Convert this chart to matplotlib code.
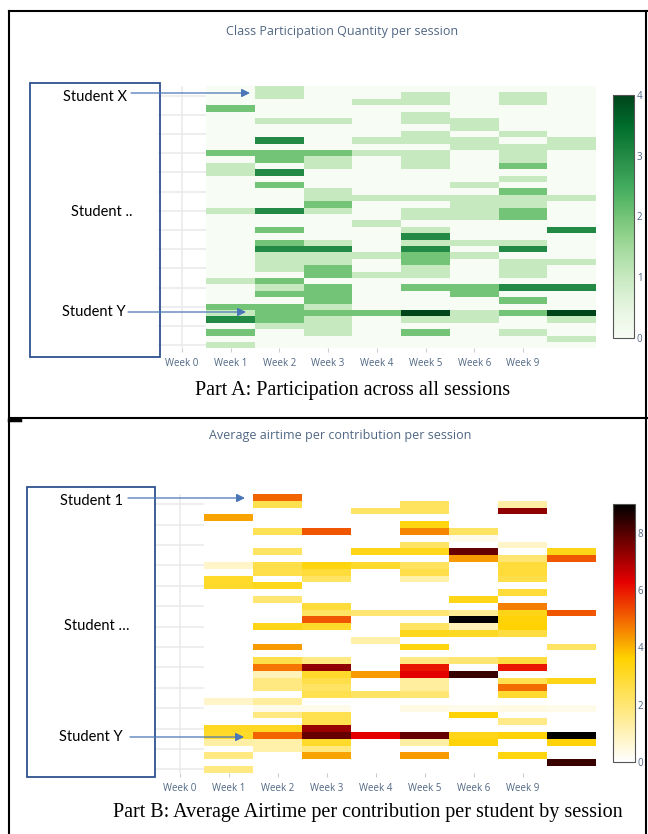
import numpy as np
import matplotlib
matplotlib.use('Agg')
import matplotlib.pyplot as plt
from matplotlib.colors import LinearSegmentedColormap
from matplotlib.patches import Rectangle, FancyArrowPatch
from matplotlib.lines import Line2D

# ------------------------------------------------------------------ #
#  Data (rows = students, top to bottom; Week 0 has no data)          #
# ------------------------------------------------------------------ #

weeks = ['Week 0', 'Week 1', 'Week 2', 'Week 3', 'Week 4', 'Week 5', 'Week 6', 'Week 9', '']

# Part A: number of contributions per session
qty_w1 = [0, 0, 0, 2, 0, 0, 0, 0, 0, 0, 2, 0, 1, 1, 0, 0, 0, 0, 0, 1, 0, 0, 0, 0, 0, 0, 0, 0, 0, 0, 1, 0, 0, 0, 2, 1, 3, 0, 2, 0, 1]
qty_w2 = [1, 1, 0, 0, 0, 1, 0, 0, 3, 0, 2, 2, 0, 3, 0, 2, 0, 0, 0, 3, 0, 0, 2, 0, 2, 3, 1, 1, 1, 0, 2, 1, 2, 0, 2, 2, 2, 1, 0, 0, 0]
qty_w3 = [0, 0, 0, 0, 0, 1, 0, 0, 0, 0, 2, 1, 1, 0, 0, 0, 1, 1, 2, 1, 0, 0, 0, 0, 1, 3, 1, 1, 2, 2, 0, 2, 2, 2, 1, 2, 1, 1, 1, 0, 0]
qty_w4 = [0, 0, 1, 0, 0, 0, 0, 0, 1, 0, 1, 0, 0, 0, 0, 0, 0, 1, 0, 0, 0, 1, 0, 0, 0, 0, 1, 0, 0, 1, 0, 0, 0, 0, 0, 2, 0, 0, 0, 0, 0]
qty_w5 = [0, 1, 1, 0, 1, 1, 0, 1, 1, 0, 1, 1, 1, 0, 0, 0, 0, 1, 0, 1, 1, 0, 1, 3, 1, 3, 2, 2, 1, 1, 0, 2, 0, 0, 0, 4, 1, 0, 2, 0, 0]
qty_w6 = [0, 0, 0, 0, 0, 1, 1, 0, 1, 1, 0, 0, 0, 0, 0, 1, 0, 1, 1, 1, 1, 0, 0, 0, 1, 0, 1, 0, 0, 0, 0, 2, 2, 0, 0, 1, 1, 0, 0, 0, 0]
qty_w9 = [0, 1, 1, 0, 0, 0, 0, 1, 0, 1, 1, 1, 2, 0, 1, 0, 2, 1, 1, 2, 2, 0, 0, 0, 1, 3, 0, 1, 1, 1, 0, 3, 0, 2, 0, 2, 0, 0, 1, 0, 0]
qty_wx = [0, 0, 0, 0, 0, 0, 0, 0, 1, 1, 0, 0, 0, 0, 0, 0, 0, 1, 0, 0, 0, 0, 3, 0, 0, 0, 0, 1, 0, 0, 0, 3, 0, 0, 0, 4, 1, 0, 0, 1, 0]

# Part B: average airtime per contribution
air_w1 = [0, 0, 0, 4.2, 0, 0, 0, 0, 0, 0, 0.8, 0, 3.0, 3.0, 0, 0, 0, 0, 0, 0, 0, 0, 0, 0, 0, 0, 0, 0, 0, 0, 0.8, 0, 0, 0, 3.1, 3.0, 1.3, 0, 1.8, 0, 1.8]
air_w2 = [5.0, 2.5, 0, 0, 0, 2.4, 0, 0, 2.2, 0, 2.6, 2.6, 0, 3.2, 0, 2.0, 0, 0, 0, 3.3, 0, 0, 4.3, 0, 2.6, 4.8, 1.0, 1.8, 1.8, 0, 1.4, 0.3, 1.8, 0, 3.1, 5.0, 1.2, 1.2, 0, 0, 0]
air_w3 = [0, 0, 0, 0, 0, 5.2, 0, 0, 0, 0, 3.4, 2.8, 2.2, 0, 0, 0, 2.8, 2.2, 5.2, 3.0, 0, 0, 0, 0, 1.8, 7.3, 3.0, 2.6, 2.2, 2.5, 0, 0.3, 2.5, 2.5, 7.2, 7.8, 3.0, 1.8, 4.2, 0, 0]
air_w4 = [0, 0, 2.2, 0, 0, 0, 0, 0, 3.3, 0, 3.0, 0, 0, 0, 0, 0, 0, 2.0, 0, 0, 0, 1.2, 0, 0, 0, 0, 4.3, 0, 0, 2.2, 0, 0, 0, 0, 0, 6.3, 0, 0, 0, 0, 0]
air_w5 = [0, 2.3, 2.3, 0, 3.4, 4.6, 0, 2.2, 3.2, 0, 2.3, 2.6, 1.2, 0, 0, 0, 0, 2.0, 0, 2.2, 3.2, 0, 3.4, 0, 1.8, 6.0, 6.3, 1.4, 1.4, 2.0, 0, 0.4, 0, 0, 0, 7.8, 1.3, 0, 4.3, 0, 0]
air_w6 = [0, 0, 0, 0, 0, 2.2, 0.3, 0, 7.8, 4.3, 0, 0, 0, 0, 0, 3.3, 0, 1.5, 9.0, 1.0, 3.1, 0, 0, 0, 2.0, 0, 8.3, 0, 0, 0, 0, 0.3, 3.6, 0, 0, 3.3, 3.5, 0, 0, 0, 0]
air_w9 = [0, 1.3, 7.3, 0, 0, 0, 0, 0.8, 0, 2.0, 2.8, 2.8, 2.6, 0, 2.8, 0, 4.7, 3.3, 3.5, 3.6, 2.7, 0, 0, 0, 2.7, 6.0, 0, 2.5, 4.9, 2.9, 0, 0.4, 0, 1.7, 0, 3.5, 0, 0, 3.4, 0, 0]
air_wx = [0, 0, 0, 0, 0, 0, 0, 0, 3.3, 5.2, 0, 0, 0, 0, 0, 0, 0, 5.2, 0, 0, 0, 0, 2.2, 0, 0, 0, 0, 3.3, 0, 0, 0, 0.3, 0, 0, 0, 9.0, 3.5, 0, 0, 8.3, 0]

W, H = 648, 834
TICK_COLOR = '#506784'
SANS = ['Open Sans', 'DejaVu Sans']
SERIF = ['Liberation Serif', 'DejaVu Serif']


def fx(x):
    return x / W


def fy(y):
    return 1 - y / H


def build(cols):
    n = len(cols[0])
    mat = np.full((n, len(weeks)), np.nan)
    for j, c in enumerate(cols):
        mat[:, j + 1] = c
    return mat


def heatmap(fig, rect, cbar_rect, mat, cmap, vmax, ticks):
    left, top, right, bottom = rect
    ax = fig.add_axes([fx(left), fy(bottom), fx(right - left), (bottom - top) / H])
    n_rows, n_cols = mat.shape
    mesh = ax.pcolormesh(np.arange(n_cols + 1), np.arange(n_rows + 1),
                         np.ma.masked_invalid(mat), cmap=cmap, vmin=0, vmax=vmax)
    ax.set_xlim(0, n_cols)
    ax.set_ylim(n_rows, 0)
    ax.set_xticks(np.arange(8) + 0.5, weeks[:8], family=SANS)
    ax.set_yticks(np.arange(1, n_rows, 3) + 0.5)
    ax.grid(True, color='#ebebeb', lw=1.2)
    ax.set_axisbelow(True)
    ax.tick_params(axis='y', left=False, labelleft=False)
    ax.tick_params(axis='x', length=3, color='#cccccc', labelsize=7,
                   labelcolor=TICK_COLOR, pad=4)
    for s in ax.spines.values():
        s.set_visible(False)

    cl, ct, cr, cbt = cbar_rect
    cax = fig.add_axes([fx(cl), fy(cbt), fx(cr - cl), (cbt - ct) / H])
    cb = fig.colorbar(mesh, cax=cax, ticks=ticks)
    cb.outline.set_edgecolor('#555555')
    cb.outline.set_linewidth(0.8)
    cax.tick_params(length=0, labelsize=7, labelcolor=TICK_COLOR, pad=2)
    for t in cax.get_yticklabels():
        t.set_family(SANS)
    return ax


def student_box(fig, box, labels, arrows):
    l, t, r, b = box
    fig.add_artist(Rectangle((fx(l), fy(b)), fx(r - l), (b - t) / H,
                             transform=fig.transFigure, fill=False,
                             edgecolor='#2f528f', lw=1.3))
    for (x, y, s) in labels:
        fig.text(fx(x), fy(y), s, ha='center', va='center', fontsize=10.5,
                 family=['Lato', 'DejaVu Sans'], color='black')
    for (x0, x1, y) in arrows:
        fig.add_artist(FancyArrowPatch((fx(x0), fy(y)), (fx(x1), fy(y)),
                                       transform=fig.transFigure,
                                       arrowstyle='-|>,head_length=5,head_width=2.5',
                                       color='#4a76b8', lw=0.9, mutation_scale=1,
                                       shrinkA=0, shrinkB=0))


fig = plt.figure(figsize=(W / 100, H / 100), dpi=100)

# frame lines
for (x0, y0, x1, y1, lw) in [(9, 11, 648, 11, 1.5), (9, 11, 9, 834, 1.5),
                             (9, 418, 648, 418, 1.5), (646, 11, 646, 834, 1.5),
                             (9, 419.5, 20, 419.5, 2.5)]:
    fig.add_artist(Line2D([fx(x0), fx(x1)], [fy(y0), fy(y1)], transform=fig.transFigure,
                          color='black', lw=lw))

# ---- Part A ---------------------------------------------------- #
qty = build([qty_w1, qty_w2, qty_w3, qty_w4, qty_w5, qty_w6, qty_w9, qty_wx])
heatmap(fig, (157.6, 86, 596, 348.4), (612.7, 95, 634, 338), qty,
        plt.get_cmap('Greens'), 4, [0, 1, 2, 3, 4])
fig.text(fx(342), fy(32), 'Class Participation Quantity per session', ha='center',
         va='center', fontsize=9, color=TICK_COLOR, family=SANS)
student_box(fig, (30, 83, 160, 357),
            [(95, 97, 'Student X'), (102, 212, 'Student ..'), (94, 312, 'Student Y')],
            [(131, 250, 93), (128, 246, 312)])
fig.text(fx(353), fy(391), 'Part A: Participation across all sessions', ha='center',
         va='center', fontsize=14.5, family=SERIF)

# ---- Part B ---------------------------------------------------- #
hot_r = LinearSegmentedColormap.from_list(
    'hot_r', [(0, (1, 1, 1)), (0.4, (1, 210 / 255, 0)), (0.7, (230 / 255, 0, 0)), (1, (0, 0, 0))])
air = build([air_w1, air_w2, air_w3, air_w4, air_w5, air_w6, air_w9, air_wx])
heatmap(fig, (155, 494, 596, 772.8), (613.3, 504, 635, 762), air,
        hot_r, 9, [0, 2, 4, 6, 8])
fig.text(fx(340), fy(436), 'Average airtime per contribution per session', ha='center',
         va='center', fontsize=9, color=TICK_COLOR, family=SANS)
student_box(fig, (27, 487, 155, 777),
            [(91, 501, 'Student 1'), (97, 626, 'Student \u2026'), (91, 737, 'Student Y')],
            [(128, 245, 498), (130, 244, 737)])
fig.text(fx(368), fy(812), 'Part B: Average Airtime per contribution per student by session',
         ha='center', va='center', fontsize=14.5, family=SERIF)

fig.savefig('out.png', dpi=100, facecolor='white')
